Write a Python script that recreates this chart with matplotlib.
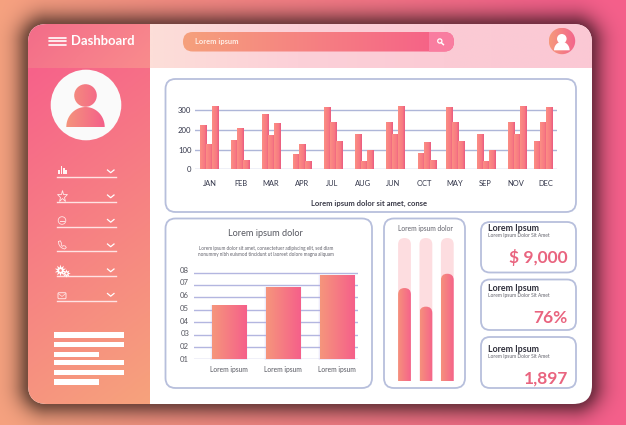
import numpy as np
import matplotlib
matplotlib.use("Agg")
import matplotlib.pyplot as plt
from matplotlib.patches import FancyBboxPatch, Rectangle, Circle, Wedge, Ellipse, PathPatch
from matplotlib.path import Path
from matplotlib.colors import LinearSegmentedColormap, to_rgb
from matplotlib.transforms import ScaledTranslation

plt.rcParams['font.family'] = ['Lato', 'DejaVu Sans']

# ---- data ----
months = ['JAN', 'FEB', 'MAR', 'APR', 'JUL', 'AUG', 'JUN', 'OCT', 'MAY', 'SEP', 'NOV', 'DEC']
series_a = [225, 150, 280, 78, 315, 180, 240, 85, 315, 180, 240, 145]
series_b = [130, 210, 175, 130, 240, 40, 180, 140, 240, 40, 180, 240]
series_c = [318, 45, 235, 40, 145, 100, 318, 45, 145, 100, 318, 315]
top_ticks = [0, 100, 200, 300]

level_labels = ['01', '02', '03', '04', '05', '06', '07', '08']
level_cats = ['Lorem ipsum', 'Lorem ipsum', 'Lorem ipsum']
level_values = [5.37, 6.8, 7.77]

capsule_values = [65, 52, 75]
capsule_track = [100, 100, 100]

kpi_titles = ['Lorem Ipsum', 'Lorem Ipsum', 'Lorem Ipsum']
kpi_sub = ['Lorem Ipsum Dolor Sit Amet'] * 3
kpi_values = ['$ 9,000', '76%', '1,897']

W, H = 626, 425

fig = plt.figure(figsize=(W / 100, H / 100), dpi=100)
ax = fig.add_axes([0, 0, 1, 1])
ax.axis('off')


def pxaxes(x0, y0, x1, y1):
    a = fig.add_axes([x0 / W, 1 - y1 / H, (x1 - x0) / W, (y1 - y0) / H])
    a.patch.set_alpha(0)
    for s in a.spines.values():
        s.set_visible(False)
    a.tick_params(length=0)
    return a


def grad(a, x0, y0, x1, y1, c0, c1, angle=0.0, clip=None, zorder=2, stops=None):
    """Gradient image filling a box; angle 0 = left to right, 90 = top to bottom"""
    n = 64
    u, v = np.meshgrid(np.linspace(0, 1, n), np.linspace(0, 1, n))
    t = np.cos(np.radians(angle)) * u + np.sin(np.radians(angle)) * v
    t = (t - t.min()) / (t.max() - t.min())
    cm = LinearSegmentedColormap.from_list('g', stops if stops else [c0, c1])
    im = a.imshow(t, cmap=cm, extent=(x0, x1, y1, y0), origin='upper', aspect='auto',
                  zorder=zorder, interpolation='bilinear', vmin=0, vmax=1)
    if clip is not None:
        im.set_clip_path(clip)
    return im


def rbox(a, x0, y0, x1, y1, r, **kw):
    p = FancyBboxPatch((x0, y0), x1 - x0, y1 - y0,
                       boxstyle=f'round,pad=0,rounding_size={r}', **kw)
    a.add_patch(p)
    return p


# ---- background with panel shadow ----
PX0, PY0, PX1, PY1, PR = 28, 24, 592, 404, 19
xx, yy = np.meshgrid(np.arange(W) + .5, np.arange(H) + .5)
t = np.clip((xx / W) * 1.12 - 0.03 + (0.5 - yy / H) * 0.06, 0, 1)[..., None]
c0 = np.array(to_rgb('#f6a280'))
c1 = np.array(to_rgb('#f5608b'))
bg = c0 * (1 - t) + c1 * t
qx = np.abs(xx - (PX0 + PX1) / 2) - ((PX1 - PX0) / 2 - PR)
qy = np.abs(yy - (PY0 + PY1) / 2) - ((PY1 - PY0) / 2 - PR)
sd = np.hypot(np.maximum(qx, 0), np.maximum(qy, 0)) + np.minimum(np.maximum(qx, qy), 0) - PR
shade = 0.52 * np.exp(-(np.maximum(sd, 0) / 13.0) ** 1.5)[..., None]
ax.imshow(bg * (1 - shade), extent=(0, W, H, 0), aspect='auto', zorder=0)

panel = rbox(ax, PX0, PY0, PX1, PY1, PR, fc='white', ec='none', zorder=1)

# sidebar and top bar
grad(ax, 28, 68, 150, 404, '#f7628a', '#f6a27c', 75, clip=panel, zorder=2)
grad(ax, 28, 24, 150, 68, '#f36c89', '#f98c8d', 20, clip=panel, zorder=2)
grad(ax, 150, 24, 592, 68, '#fddcd8', '#fbc8d4', 0, clip=panel, zorder=2,
     stops=['#fdded8', '#fcd0d8', '#fbcbd5', '#fbc8d4'])

# header
for y in (37.5, 41.3, 45):
    ax.plot([48.5, 65.5], [y, y], color='white', lw=1.2, zorder=5, solid_capstyle='round')
ax.text(71.5, 41.3, 'Dashboard', color='white', fontsize=9.4, fontweight='bold',
        va='center', ha='left', zorder=5)


def person(a, cx, head_y, head_r, base_y, s, body_h, face=None):
    """Person icon: round head above half-elliptical shoulders"""
    head = Circle((cx, head_y), head_r)
    th = np.radians(np.linspace(180, 360, 40))
    verts = np.column_stack([cx + s * np.cos(th), base_y + body_h * np.sin(th)])
    body = PathPatch(Path(np.vstack([verts, verts[0]]), closed=True))
    for p in (head, body):
        p.set_edgecolor('none')
        if face is None:
            p.set_facecolor('white')
            p.set_zorder(7)
            a.add_patch(p)
        else:
            p.set_facecolor('none')
            a.add_patch(p)
            grad(a, cx - s, head_y - head_r, cx + s, base_y, face[0], face[1], 0, clip=p, zorder=7)


# sidebar avatar
ax.add_patch(Circle((86, 105), 35.3, fc='#fafafa', ec='none', zorder=5))
person(ax, 85.5, 95.5, 11.3, 127, 19.2, 20, face=('#f4947c', '#f4608a'))

# menu rows
menu_y = [177, 202, 226.5, 251, 276, 300.5]
for y in menu_y:
    ax.plot([57, 116], [y, y], color='#ffe3e3', lw=1.0, zorder=5)
    ax.plot([107.5, 110.7, 114], [y - 7, y - 4.3, y - 7], color='white', lw=0.9, zorder=5)
# bars icon
for x, h in zip((58.2, 60.7, 63.2, 65), (4, 8, 6, 4.5)):
    ax.add_patch(Rectangle((x, 174 - h), 1.7, h, fc='#fff2f2', ec='none', zorder=6))
# star icon
ax.plot([62], [195.8], marker='*', ms=8.2, mfc='none', mec='#ffe9e9', mew=0.6, zorder=6)
# smile icon
ax.add_patch(Circle((62, 220.5), 3.8, fc='none', ec='#ffe4e4', lw=0.6, zorder=6))
ax.plot([60, 64], [220.5, 220.5], color='#ffe4e4', lw=0.7, zorder=6)
# phone icon
ax.plot([58.5, 58.8, 60.2, 62.3, 64.6, 66.3, 65.2, 63.4, 62.4, 61.3, 61.4, 60.3, 58.5],
        [241.5, 244.2, 246.6, 248.2, 249, 247.6, 246, 245.6, 246.4, 245, 243, 240.8, 241.5],
        color='#ffe4e4', lw=0.6, zorder=6)
# gears icon
ax.plot([59.5], [269.5], marker=(10, 1, 0), ms=8.5, color='white', mew=0, zorder=6)
ax.plot([59.5], [269.5], marker='o', ms=2, color='#f98a86', mew=0, zorder=7)
ax.plot([66], [272.5], marker=(8, 1, 0), ms=6, color='white', mew=0, zorder=6)
ax.plot([66], [272.5], marker='o', ms=1.5, color='#f98a86', mew=0, zorder=7)
# mail icon
rbox(ax, 58, 292.7, 66, 298.7, 1, fc='none', ec='#ffe4e4', lw=0.7, zorder=6)
ax.plot([58.5, 62, 65.5], [293.7, 296.5, 293.7], color='#ffe4e4', lw=0.5, zorder=6)

# sidebar text block
block_y = [335, 344.7, 354.3, 362.7, 372.3, 382]
block_x1 = [124, 124, 99, 124, 124, 99]
for y, x1 in zip(block_y, block_x1):
    ax.add_patch(Rectangle((54, y - 2.7), x1 - 54, 5.4, fc='white', ec='none', zorder=5))

# search bar
sb = rbox(ax, 183, 32, 454, 51.5, 9.7, fc='none', ec='none', zorder=3)
grad(ax, 183, 32, 454, 52, '#f5a07c', '#f65e88', 0, clip=sb, zorder=4)
ax.add_patch(Rectangle((429, 32), 25, 20, fc='#f97da0', ec='none', zorder=5, clip_path=sb))
ax.text(195, 41.7, 'Lorem ipsum', color='#ffeee6', fontsize=5.4, fontweight='bold',
        va='center', zorder=6)
ax.add_patch(Circle((439.8, 41), 2.1, fc='none', ec='white', lw=0.9, zorder=6))
ax.plot([441.3, 443.4], [42.6, 44.6], color='white', lw=1.1, zorder=6)
# top-right avatar
av = Circle((562, 41), 13.2, fc='none', ec='none', zorder=3)
ax.add_patch(av)
grad(ax, 548.5, 27.5, 575.5, 54.5, '#f69a7c', '#f3648c', 0, clip=av, zorder=4)
person(ax, 561.8, 38.8, 4.8, 50.3, 7.8, 8.5)

# cards
CARD = dict(fc='white', ec='#b7bfdc', lw=1.3, zorder=3)
rbox(ax, 165.5, 79, 576, 212, 10, **CARD)
rbox(ax, 165.5, 218.5, 372, 388, 10, **CARD)
rbox(ax, 384, 218.5, 465, 388, 10, **CARD)
rbox(ax, 481, 222, 576, 272.5, 9, **CARD)
rbox(ax, 481, 279.5, 576, 330, 9, **CARD)
rbox(ax, 481, 337, 576, 388, 9, **CARD)

# ---- top chart ----
ax1 = pxaxes(195, 100, 557, 169.4)
STEP = 31.0
ax1.set_yticks(top_ticks, [str(v) for v in top_ticks], fontsize=5.6, color='#33364a')
ax1.yaxis.set_tick_params(pad=2.5)
ax1.grid(axis='y', color='#aeb6d8', lw=1.0, zorder=1)
ax1.set_axisbelow(True)
shift = np.array([0, 0, 0, 0, 0, 0, 0, 1, -2, -2, -2, -7]) / STEP
gx = np.arange(len(months)) + shift
bw = 6.1 / STEP
bar_stops = ['#fb8f84', '#fa8383', '#f87a82', '#ea5a80']
for off, vals in zip((-1, 0, 1), (series_a, series_b, series_c)):
    bars = ax1.bar(gx + off * bw, vals, bw, color='#fa8383', zorder=3)
    for b in bars:
        x0, w, h = b.get_x(), b.get_width(), b.get_height()
        r = Rectangle((x0, 0), w, h, fc='none', ec='none', zorder=3)
        ax1.add_patch(r)
        grad(ax1, x0, 0, x0 + w, h, None, None, 0, clip=r, zorder=4, stops=bar_stops)
ax1.set_xlim((195 - 209) / STEP, (557 - 209) / STEP)
ax1.set_ylim(0, 350)
ax1.set_xticks(np.arange(len(months)) * 30.55 / STEP + 1 / STEP, months, fontsize=5.4, color='#33364a')
ax1.xaxis.set_tick_params(pad=7.5)
ax.text(369, 203, 'Lorem ipsum dolor sit amet, conse', fontsize=5.5, fontweight='bold',
        color='#3a3a48', ha='center', va='center', zorder=5)

# ---- bottom-left chart ----
ax.text(265, 233.5, 'Lorem ipsum dolor', fontsize=6.6, color='#55565f', ha='center', va='center', zorder=5)
ax.text(266, 251.5, 'Lorem ipsum dolor sit amet, consectetuer adipiscing elit, sed diam\n'
        'nonummy nibh euismod tincidunt ut laoreet dolore magna aliquam',
        fontsize=3.3, color='#60606a', ha='center', va='center', linespacing=1.35, zorder=5)

ax2 = pxaxes(194, 265, 358, 359.3)
UNIT = 12.4
ypos = np.arange(1, len(level_labels) + 1)
ax2.set_yticks(ypos, level_labels, fontsize=5.6, color='#55565f')
ax2.yaxis.set_tick_params(pad=3.5)
ax2.grid(axis='y', color='#b3b6e0', lw=1.0, zorder=1)
ax2.set_axisbelow(True)
for i, lab in enumerate(ax2.get_yticklabels()):
    lab.set_transform(lab.get_transform() + ScaledTranslation(0, (0.7 + 0.3 * i) / 100, fig.dpi_scale_trans))
bx = np.arange(len(level_values))
bw2 = 34.2 / 54.0
for g in range(3):
    ax2.bar(bx, np.array(level_values) - 1 + 0.03 * (3 - g), bw2 + 0.02 * (3 - g), bottom=1 - 0.03 * (3 - g),
            color='#b9a6f0', alpha=0.08, zorder=2, clip_on=False)
bars2 = ax2.bar(bx, np.array(level_values) - 1, bw2, bottom=1, color='#f6787f', zorder=3)
for b in bars2:
    r = Rectangle((b.get_x(), 1), b.get_width(), b.get_height(), fc='none', ec='none', zorder=3)
    ax2.add_patch(r)
    grad(ax2, b.get_x(), 1, b.get_x() + b.get_width(), 1 + b.get_height(), '#f6957c', '#f5608a', 0,
         clip=r, zorder=4)
ax2.set_xlim((194 - 229) / 54.0, (358 - 229) / 54.0)
ax2.set_ylim(1, 1 + (359.3 - 265) / UNIT)
ax2.set_xticks(bx, level_cats, fontsize=4.8, color='#55565f')
ax2.xaxis.set_tick_params(pad=5)

# ---- capsule chart ----
ax.text(425, 228, 'Lorem ipsum dolor', fontsize=4.8, color='#60606a', ha='center', va='center', zorder=5)
ax3 = pxaxes(390, 238, 460, 381)
cap_step = 21.4
ax3.set_xticks([])
ax3.set_yticks([])
ry = 6.4 / 143 * 100
hw = 6.4 / cap_step


def capsule(xc, top):
    return Path([(xc - hw, 0), (xc - hw, top - ry), (xc - hw, top), (xc, top), (xc + hw, top),
                 (xc + hw, top - ry), (xc + hw, 0), (xc - hw, 0)],
                [Path.MOVETO, Path.LINETO, Path.CURVE3, Path.CURVE3, Path.CURVE3, Path.CURVE3,
                 Path.LINETO, Path.CLOSEPOLY])


for i, (tr, v) in enumerate(zip(capsule_track, capsule_values)):
    ax3.add_patch(PathPatch(capsule(i, tr), fc='#fddde0', ec='none', zorder=2))
    p = PathPatch(capsule(i, v), fc='none', ec='none', zorder=3)
    ax3.add_patch(p)
    grad(ax3, i - hw, 0, i + hw, v, '#f6907c', '#f5648a', 0, clip=p, zorder=4)
ax3.set_xlim((390 - 404.5) / cap_step, (460 - 404.5) / cap_step)
ax3.set_ylim(0, 100)

# ---- KPI cards ----
kpi_top = [228, 288.5, 349.5]
kpi_base = [257, 318, 378.5]
for t_, s_, v_, y0, y1 in zip(kpi_titles, kpi_sub, kpi_values, kpi_top, kpi_base):
    ax.text(488, y0, t_, fontsize=6.4, color='#30303c', fontweight='bold', va='center', zorder=5)
    ax.text(488, y0 + 7, s_, fontsize=3.5, color='#60606a', va='center', zorder=5)
    ax.text(568, y1, v_, fontsize=12.5, color='#e9647f', fontweight='bold', ha='right', va='center', zorder=5)

ax.set_xlim(0, W)
ax.set_ylim(H, 0)
fig.savefig('out.png', dpi=100)
